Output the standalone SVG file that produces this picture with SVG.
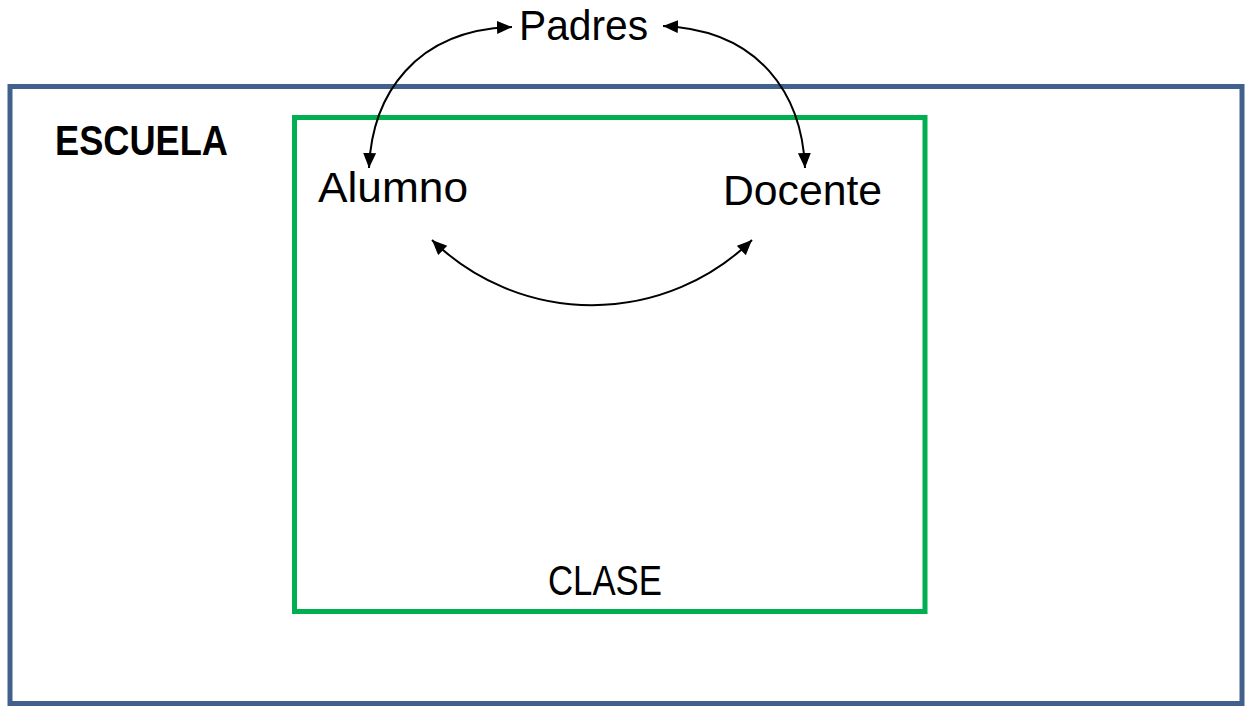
<svg xmlns="http://www.w3.org/2000/svg" width="1249" height="707" viewBox="0 0 1249 707">
<style>
text { font-family: "Liberation Sans", Arial, sans-serif; font-size: 42px; fill: #000; }
.bold { font-weight: bold; }
.conn { fill: none; stroke: #000; stroke-width: 2; marker-start: url(#ah); marker-end: url(#ah); }
</style>
<defs>
<marker id="ah" markerUnits="userSpaceOnUse" markerWidth="16" markerHeight="14" refX="15" refY="6.5" orient="auto-start-reverse">
<path d="M0,0 L15,6.5 L0,13 z" fill="#000"/>
</marker>
</defs>
<rect width="1249" height="707" fill="#fff"/>
<g id="escuela">
<rect x="10" y="86.5" width="1232" height="617" fill="none" stroke="#41608C" stroke-width="5"/>
<text class="bold" x="55" y="155" textLength="173" lengthAdjust="spacingAndGlyphs">ESCUELA</text>
</g>
<g id="clase">
<rect x="294.5" y="117.5" width="630.5" height="494" fill="none" stroke="#00B050" stroke-width="5"/>
<text x="548" y="595" textLength="114" lengthAdjust="spacingAndGlyphs">CLASE</text>
</g>
<g id="padres">
<text x="519" y="40" textLength="129" lengthAdjust="spacingAndGlyphs">Padres</text>
</g>
<g id="alumno">
<text x="318" y="202" textLength="150" lengthAdjust="spacingAndGlyphs">Alumno</text>
</g>
<g id="docente">
<text x="723" y="205" textLength="159" lengthAdjust="spacingAndGlyphs">Docente</text>
</g>
<g id="connectors">
<path class="conn" d="M369,168 C372,95 415,30 512,27"/>
<path class="conn" d="M663,26 C760,30 802,95 805,168"/>
<path class="conn" d="M432,240 A229,229 0 0 0 752,240"/>
</g>
</svg>
